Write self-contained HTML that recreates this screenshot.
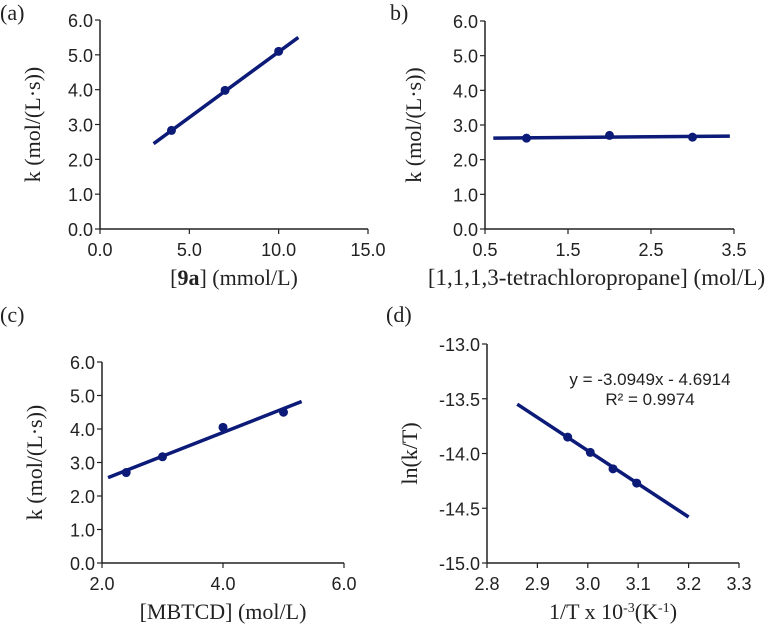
<!DOCTYPE html>
<html><head><meta charset="utf-8"><style>
body{margin:0;background:#fff;width:783px;height:628px;overflow:hidden}
svg{display:block}
.tk{font-family:"Liberation Sans",sans-serif;font-size:18px;fill:#222}
.ti{font-family:"Liberation Serif",serif;font-size:22px;fill:#222}
.pl{font-family:"Liberation Serif",serif;font-size:22px;fill:#222}
</style></head><body>
<svg id="fig" width="783" height="628"></svg>
<script>
// Panel a
const aX=[4,7,10], aY=[2.83,3.98,5.1], aFit=[[3,2.45],[11.1,5.5]];
const aXTicks=[0,5,10,15], aYTicks=[0,1,2,3,4,5,6];
// Panel b
const bX=[1,2,3], bY=[2.62,2.7,2.65], bFit=[[0.6,2.62],[3.45,2.68]];
const bXTicks=[0.5,1.5,2.5,3.5], bYTicks=[0,1,2,3,4,5,6];
// Panel c
const cX=[2.4,3,4,5], cY=[2.7,3.17,4.05,4.5], cFit=[[2.1,2.55],[5.3,4.82]];
const cXTicks=[2,4,6], cYTicks=[0,1,2,3,4,5,6];
// Panel d
const dX=[2.96,3.005,3.05,3.097], dY=[-13.85,-13.99,-14.14,-14.27], dFit=[[2.86,-13.55],[3.2,-14.58]];
const dXTicks=[2.8,2.9,3.0,3.1,3.2,3.3], dYTicks=[-15,-14.5,-14,-13.5,-13];

const NS="http://www.w3.org/2000/svg", svg=document.getElementById('fig');
function mk(t,a,p){const e=document.createElementNS(NS,t);for(const k in a)e.setAttribute(k,a[k]);(p||svg).appendChild(e);return e;}
function panel(o){
 const g=mk('g',{});
 
 
 const sx=v=>o.x0+(v-o.xmin)/(o.xmax-o.xmin)*(o.x1-o.x0);
 const sy=v=>o.y0-(v-o.ymin)/(o.ymax-o.ymin)*(o.y0-o.y1);
 const ya=mk('line',{x1:o.x0,y1:o.y1,x2:o.x0,y2:o.y0,stroke:'#222','stroke-width':1.5},g);
 
 
 const xa=mk('line',{x1:o.x0,y1:o.y0,x2:o.x1,y2:o.y0,stroke:'#222','stroke-width':1.5},g);
 
 
 o.yt.forEach(v=>{const y=sy(v);mk('line',{x1:o.x0-5,y1:y,x2:o.x0,y2:y,stroke:'#222','stroke-width':1.2},g);
  const t=mk('text',{x:o.x0-7,y:y+7,'text-anchor':'end',class:'tk'},g);t.textContent=v.toFixed(1);
  
  });
 o.xt.forEach(v=>{const x=sx(v);mk('line',{x1:x,y1:o.y0,x2:x,y2:o.y0+5,stroke:'#222','stroke-width':1.2},g);
  const t=mk('text',{x:x,y:o.y0+27,'text-anchor':'middle',class:'tk'},g);t.textContent=v.toFixed(1);
  
  });
 const f=mk('line',{x1:sx(o.fit[0][0]),y1:sy(o.fit[0][1]),x2:sx(o.fit[1][0]),y2:sy(o.fit[1][1]),stroke:'#0c1a78','stroke-width':3.5},g);
 
 
 o.xs.forEach((v,i)=>{const c=mk('circle',{cx:sx(v),cy:sy(o.ys[i]),r:4.5,fill:'#0c1a78'},g);
  
  });
 const xt=mk('text',{x:(o.x0+o.x1)/2+(o.xtdx||0),y:o.y0+56,'text-anchor':'middle',class:'ti',style:o.xtstyle||''},g);xt.innerHTML=o.xtitle;
 
 
 const cy=(o.y0+o.y1)/2, yx=o.x0-(o.ytdx||60);
 const yt=mk('text',{x:yx,y:cy,'text-anchor':'middle',class:'ti',transform:`rotate(-90 ${yx} ${cy})`},g);yt.textContent=o.ytitle;
 
 
 const pl=mk('text',{x:o.lx,y:o.ly,class:'pl'},g);pl.textContent=o.label;
 
 
 return {g,sx,sy};
}
panel({id:'a',x0:100,x1:368,y0:229,y1:20,xmin:0,xmax:15,ymin:0,ymax:6,xt:aXTicks,yt:aYTicks,xs:aX,ys:aY,fit:aFit,
 xtitle:'[<tspan font-weight="bold">9a</tspan>] (mmol/L)',ytitle:'k (mol/(L·s))',label:'(a)',lx:0,ly:20});
panel({id:'b',x0:485,x1:734,y0:229,y1:21,xmin:0.5,xmax:3.5,ymin:0,ymax:6,xt:bXTicks,yt:bYTicks,xs:bX,ys:bY,fit:bFit,
 xtitle:'[1,1,1,3-tetrachloropropane] (mol/L)',xtstyle:'font-size:23px',xtdx:-13,ytitle:'k (mol/(L·s))',ytdx:64,label:'b)',lx:390,ly:20});
panel({id:'c',x0:102,x1:344,y0:563,y1:362,xmin:2,xmax:6,ymin:0,ymax:6,xt:cXTicks,yt:cYTicks,xs:cX,ys:cY,fit:cFit,
 xtitle:'[MBTCD] (mol/L)',ytitle:'k (mol/(L·s))',label:'(c)',lx:0,ly:322});
const d=panel({id:'d',x0:487,x1:739,y0:563,y1:344,xmin:2.8,xmax:3.3,ymin:-15,ymax:-13,xt:dXTicks,yt:dYTicks,xs:dX,ys:dY,fit:dFit,
 xtitle:'1/T x 10<tspan baseline-shift="super" font-size="14">-3</tspan>(K<tspan baseline-shift="super" font-size="14">-1</tspan>)',ytitle:'ln(k/T)',ytdx:70,label:'(d)',lx:386,ly:322});
const e1=mk('text',{x:650,y:385,'text-anchor':'middle',class:'tk',style:'font-size:17px'});e1.textContent='y = -3.0949x - 4.6914';


const e2=mk('text',{x:650,y:405,'text-anchor':'middle',class:'tk',style:'font-size:17px'});e2.textContent='R² = 0.9974';


</script>
</body></html>
